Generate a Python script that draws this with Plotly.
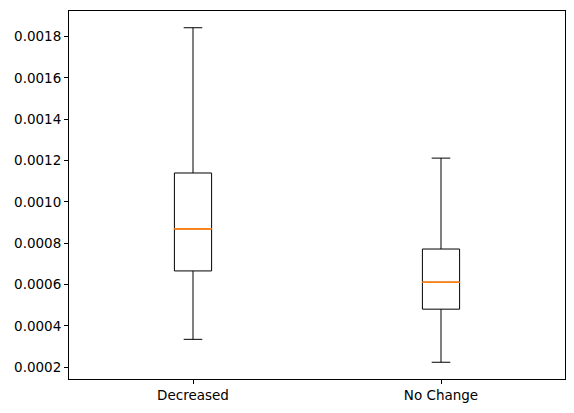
import plotly.graph_objects as go

# box statistics
categories = ["Decreased", "No Change"]
lower_fence = [0.000335, 0.000224]
q1 = [0.000666, 0.000481]
median = [0.00087, 0.000611]
q3 = [0.00114, 0.000772]
upper_fence = [0.001843, 0.001212]

y_ticks = [0.0002, 0.0004, 0.0006, 0.0008, 0.0010, 0.0012, 0.0014, 0.0016, 0.0018]

fig = go.Figure()

fig.add_trace(go.Box(
    x=categories,
    q1=q1,
    median=median,
    q3=q3,
    lowerfence=lower_fence,
    upperfence=upper_fence,
    width=0.15,
    whiskerwidth=0.5,
    line=dict(color="black", width=1),
    fillcolor="rgba(0,0,0,0)",
    boxpoints=False,
    showlegend=False,
))

# orange median line drawn as a flat box on top
fig.add_trace(go.Box(
    x=categories,
    q1=median,
    median=median,
    q3=median,
    lowerfence=median,
    upperfence=median,
    width=0.15,
    whiskerwidth=1,
    line=dict(color="#ff7f0e", width=1),
    fillcolor="rgba(0,0,0,0)",
    boxpoints=False,
    showlegend=False,
))

fig.update_layout(
    width=574,
    height=413,
    margin=dict(l=69, r=9, t=11, b=34),
    boxmode="overlay",
    plot_bgcolor="white",
    paper_bgcolor="white",
    font=dict(family="DejaVu Sans", size=13.5, color="black"),
    xaxis=dict(
        type="category",
        range=[-0.5, 1.5],
        showgrid=False,
        zeroline=False,
        showline=True,
        linecolor="black",
        linewidth=1,
        mirror=True,
        ticks="outside",
        ticklen=4,
        tickcolor="black",
    ),
    yaxis=dict(
        range=[0.000143, 0.001924],
        tickvals=y_ticks,
        tickformat=".4f",
        showgrid=False,
        zeroline=False,
        showline=True,
        linecolor="black",
        linewidth=1,
        mirror=True,
        ticks="outside",
        ticklen=4,
        tickcolor="black",
    ),
)

# drop the default page margin so the figure sits at 0,0
fig.write_html(
    "out.html",
    config={"displayModeBar": False},
    post_script="document.body.style.margin='0';",
)
